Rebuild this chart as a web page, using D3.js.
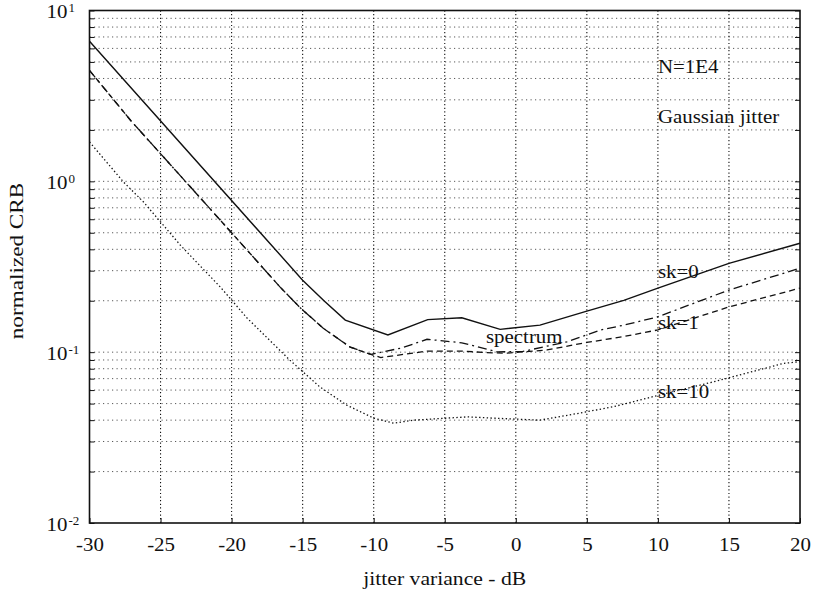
<!DOCTYPE html>
<html>
<head>
<meta charset="utf-8">
<script src="https://cdn.jsdelivr.net/npm/d3@7"></script>
<style>
  html, body { margin: 0; padding: 0; background: #fff; }
  svg { display: block; }
</style>
</head>
<body>
<svg id="chart" width="814" height="597"></svg>
<script>
// ---- data ----
const xTicks = [-30, -25, -20, -15, -10, -5, 0, 5, 10, 15, 20];
const yMajorTicks = [1e-2, 1e-1, 1e0, 1e1];
const yTickExponents = ["-2", "-1", "0", "1"];

// sk=0 (solid)
const sk0X = [-30, -15, -13.5, -12, -9, -6.2, -3.8, -1.1, 1.7, 5, 7.6, 10, 15, 20];
const sk0Y = [6.6, 0.264, 0.20, 0.154, 0.126, 0.155, 0.159, 0.136, 0.144, 0.174, 0.201, 0.237, 0.331, 0.434];

// spectrum (dash-dot)
const specX = [-30, -27.1, -20, -16.6, -15.2, -13.55, -11.65, -10.2, -8, -6.25, -3.8, -1.3, 0.5, 3.6, 6, 7.6, 9.9, 15, 20];
const specY = [4.46, 2.27, 0.50, 0.241, 0.183, 0.138, 0.107, 0.097, 0.106, 0.119, 0.1135, 0.1004, 0.101, 0.115, 0.135, 0.144, 0.160, 0.231, 0.31];

// sk=1 (dashed)
const sk1X = [-30, -27.1, -20, -16.6, -15.2, -13.55, -11.65, -10.2, -9.5, -6.25, -3.8, -1.6, -0.6, 2.2, 5, 7.5, 10, 15, 20];
const sk1Y = [4.46, 2.27, 0.50, 0.241, 0.183, 0.138, 0.107, 0.097, 0.093, 0.1014, 0.1014, 0.099, 0.0987, 0.103, 0.114, 0.123, 0.135, 0.184, 0.237];

// sk=10 (dotted)
const sk10X = [-30, -27.6, -26.2, -24.7, -23.6, -20.8, -18.9, -15.9, -13.8, -11.9, -10, -8.6, -7.2, -3.4, -1.3, 1.7, 4.5, 6.9, 9.7, 13.9, 18.85, 20];
const sk10Y = [1.7, 0.99, 0.757, 0.541, 0.4226, 0.241, 0.158, 0.0898, 0.0627, 0.049, 0.0411, 0.0384, 0.040, 0.0418, 0.041, 0.040, 0.044, 0.048, 0.055, 0.067, 0.086, 0.088];

const annotations = [
  { text: "N=1E4", x: 10.0, y: 4.3 },
  { text: "Gaussian jitter", x: 10.0, y: 2.19 },
  { text: "sk=0", x: 10.0, y: 0.272 },
  { text: "sk=1", x: 10.0, y: 0.137 },
  { text: "spectrum", x: -2.1, y: 0.113 },
  { text: "sk=10", x: 10.0, y: 0.054 }
];
const xTitle = "jitter variance - dB";
const yTitle = "normalized CRB";

// ---- layout ----
const FONT = "'Liberation Serif', 'Times New Roman', 'DejaVu Serif', serif";
const plotLeft = 89.5, plotRight = 800, plotTop = 10.5, plotBottom = 523;
const svg = d3.select("#chart");

const x = d3.scaleLinear().domain([-30, 20]).range([plotLeft, plotRight]);
const y = d3.scaleLog().domain([1e-2, 1e1]).range([plotBottom, plotTop]);

function styleText(sel, size) {
  sel.attr("font-family", null)
    .style("font-family", FONT)
    .style("font-size", size + "px")
    .attr("fill", "#111");
}
function stretch(sel, f) {
  sel.each(function () {
    const L = this.getComputedTextLength();
    this.setAttribute("textLength", L * f);
    this.setAttribute("lengthAdjust", "spacingAndGlyphs");
  });
}

// minor + major log values
const yAll = [];
for (let e = -2; e <= 0; e++) {
  for (let m = 1; m <= 9; m++) yAll.push(m * Math.pow(10, e));
}
yAll.push(10);

// grid
const grid = svg.append("g");
grid.selectAll("line.h")
  .data(yAll.filter(v => v > 1e-2 && v < 10))
  .join("line")
  .attr("class", "h")
  .attr("x1", plotLeft).attr("x2", plotRight)
  .attr("y1", d => y(d)).attr("y2", d => y(d))
  .attr("stroke", "#222").attr("stroke-width", 1)
  .attr("stroke-dasharray", "1.2,3.3")
  .attr("opacity", 0.75);
grid.selectAll("line.v")
  .data(xTicks.filter(v => v > -30 && v < 20))
  .join("line")
  .attr("class", "v")
  .attr("x1", d => x(d)).attr("x2", d => x(d))
  .attr("y1", plotTop).attr("y2", plotBottom)
  .attr("stroke", "#111").attr("stroke-width", 1.1)
  .attr("stroke-dasharray", "1.2,2.4");

// axes
const xAxis = svg.append("g")
  .attr("transform", `translate(0,${plotBottom})`)
  .call(d3.axisBottom(x).tickValues(xTicks).tickSize(-5).tickPadding(0).tickFormat(d3.format("d")));
xAxis.attr("font-family", null);
xAxis.select(".domain").remove();
xAxis.selectAll(".tick line").attr("stroke", "#111");
const xTickText = xAxis.selectAll(".tick text")
  .attr("y", 28).attr("dy", 0)
  .text(d => String(d));
styleText(xTickText, 19);
stretch(xTickText, 1.1);

const yAxis = svg.append("g")
  .attr("transform", `translate(${plotLeft},0)`)
  .call(d3.axisLeft(y).tickValues(yAll).tickSize(-5).tickFormat(""));
yAxis.select(".domain").remove();
yAxis.selectAll(".tick line").attr("stroke", "#111");

const yAxisR = svg.append("g")
  .attr("transform", `translate(${plotRight},0)`)
  .call(d3.axisRight(y).tickValues(yAll).tickSize(-5).tickFormat(""));
yAxisR.select(".domain").remove();
yAxisR.selectAll(".tick line").attr("stroke", "#111");

// y tick labels 10^k via a major-tick axis
const yLab = svg.append("g")
  .attr("transform", `translate(${plotLeft},0)`)
  .call(d3.axisLeft(y).tickValues(yMajorTicks).tickSize(0).tickFormat(() => "10"));
yLab.attr("font-family", null);
yLab.select(".domain").remove();
const yTickText = yLab.selectAll(".tick text")
  .attr("x", -22).attr("y", 7).attr("dy", 0)
  .attr("text-anchor", "end");
styleText(yTickText, 19);
stretch(yTickText, 1.1);
const yExp = yLab.selectAll(".tick").append("text")
  .attr("x", -21).attr("y", 1)
  .attr("text-anchor", "start")
  .text(d => yTickExponents[yMajorTicks.indexOf(d)]);
styleText(yExp, 13);

// frame
svg.append("rect")
  .attr("x", plotLeft).attr("y", plotTop)
  .attr("width", plotRight - plotLeft).attr("height", plotBottom - plotTop)
  .attr("fill", "none").attr("stroke", "#111").attr("stroke-width", 1.6);

// curves
const line = d3.line().x(d => x(d[0])).y(d => y(d[1]));
function drawCurve(xs, ys, dash, width) {
  svg.append("path")
    .datum(xs.map((v, i) => [v, ys[i]]))
    .attr("d", line)
    .attr("fill", "none")
    .attr("stroke", "#111")
    .attr("stroke-width", width)
    .attr("stroke-dasharray", dash);
}
drawCurve(sk0X, sk0Y, null, 1.4);
drawCurve(specX, specY, "9,4,2,4", 1.3);
drawCurve(sk1X, sk1Y, "6,4", 1.3);
drawCurve(sk10X, sk10Y, "1.4,2.4", 1.3);

// annotations
const ann = svg.append("g").selectAll("text")
  .data(annotations)
  .join("text")
  .attr("x", d => x(d.x))
  .attr("y", d => y(d.y))
  .text(d => d.text);
styleText(ann, 19);
stretch(ann, 1.1);

// titles
const xt = svg.append("text")
  .attr("x", (plotLeft + plotRight) / 2).attr("y", 585)
  .attr("text-anchor", "middle")
  .text(xTitle);
styleText(xt, 19);
stretch(xt, 1.14);

const yt = svg.append("text")
  .attr("transform", "translate(23,261) rotate(-90)")
  .attr("text-anchor", "middle")
  .text(yTitle);
styleText(yt, 19);
stretch(yt, 1.22);
</script>
</body>
</html>
